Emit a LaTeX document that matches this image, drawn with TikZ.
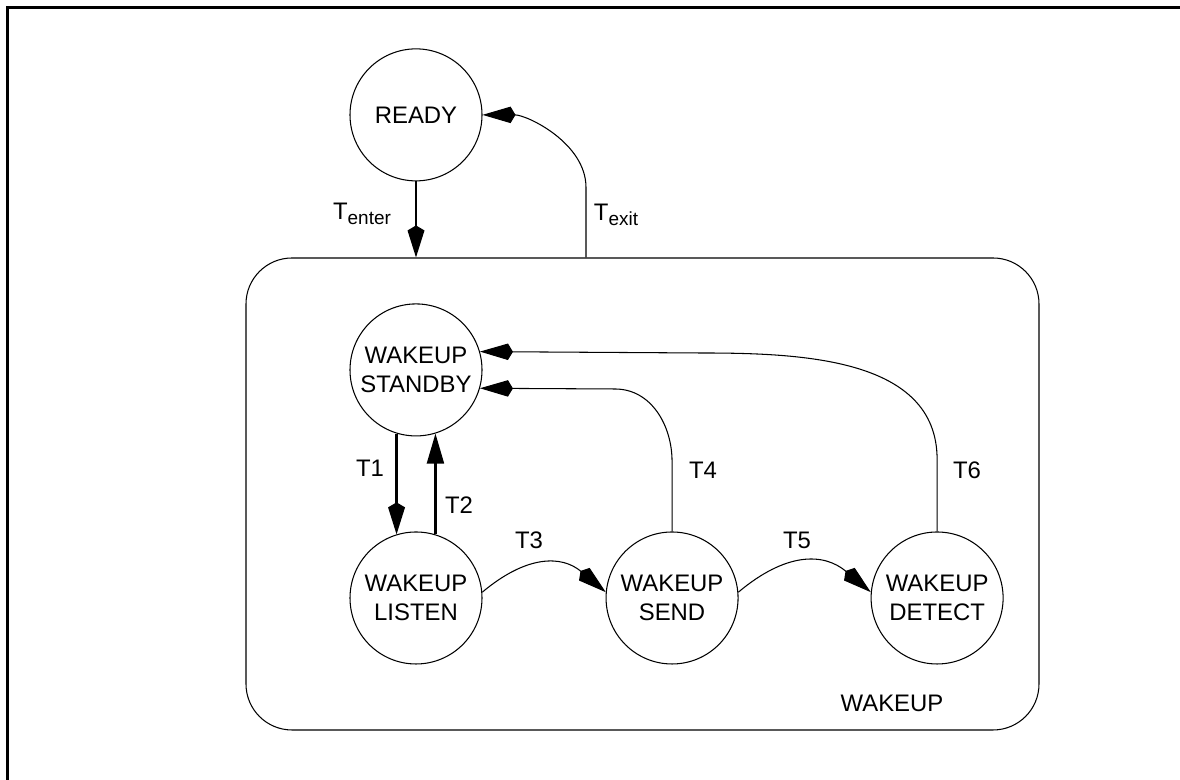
\documentclass[tikz,border=0pt]{standalone}
\usepackage{fontspec}
\setmainfont{Liberation Sans}
\usetikzlibrary{arrows.meta,positioning}
\newcommand{\tsub}[1]{\raisebox{-2.8pt}{\fontsize{10.8}{12}\selectfont #1}}

\begin{document}
\begin{tikzpicture}[font=\fontsize{13.6}{16.8}\selectfont,
    statenode/.style={draw, circle, line width=0.6pt, minimum size=2.64cm, inner sep=0pt, align=center},
    thinlink/.style={line width=0.6pt, -{Kite[length=0.66cm, width=0.33cm, inset=0.1cm]}},
    boldlink/.style={line width=1.2pt, -{Kite[length=0.64cm, width=0.34cm, inset=0.1cm]}},
    backlink/.style={line width=1.2pt, -{Triangle[length=0.6cm, width=0.34cm]}}]
  \useasboundingbox (0,0) rectangle (23.6,15.6);
  \draw[line width=1.7pt] (0.15,0) -- (0.15,15.45) -- (23.6,15.45);

  \node[draw, rounded corners=0.92cm, line width=0.6pt, minimum width=15.86cm, minimum height=9.44cm] (wakeup) at (12.85,5.72) {};
  \node (wakeuplabel) at (17.84,1.54) {WAKEUP};

  \node[statenode] (listen) at (8.32,3.64) {WAKEUP\\LISTEN};
  \node[statenode, right=2.46cm of listen] (send) {WAKEUP\\SEND};
  \node[statenode, right=2.64cm of send] (detect) {WAKEUP\\DETECT};
  \node[statenode, above=1.9cm of listen] (standby) {WAKEUP\\STANDBY};
  \node[statenode, above=2.44cm of standby] (ready) {READY};

  % enter / exit
  \draw[boldlink] (ready.south) -- (ready.south |- wakeup.north);
  \draw[thinlink] ([xshift=-1.13cm]wakeup.north) -- ++(0,1.4) to[out=90,in=0,looseness=0.9] (ready.east);
  \node (tenter) at (7.24,11.32) {T\tsub{enter}};
  \node (texit) at (12.32,11.30) {T\tsub{exit}};

  % inside WAKEUP
  \draw[boldlink] (standby.253) -- (listen.107);
  \draw[backlink] (listen.73) -- (standby.287);
  \draw[thinlink] (listen.5) to[out=40,in=140,looseness=1.2] (send.175);
  \draw[thinlink] (send.5) to[out=40,in=140,looseness=1.2] (detect.175);
  \draw[thinlink] (send.north) -- ++(0,1.4) to[out=90,in=0] (12.3,7.82) -- (standby.-16);
  \draw[thinlink] (detect.north) -- ++(0,1.44) to[out=90,in=0] (14.0,8.54) -- (standby.16);

  \node (t1) at (7.40,6.24) {T1};
  \node (t2) at (9.18,5.50) {T2};
  \node (t3) at (10.58,4.80) {T3};
  \node (t4) at (14.06,6.20) {T4};
  \node (t5) at (15.94,4.80) {T5};
  \node (t6) at (19.34,6.20) {T6};
\end{tikzpicture}
\end{document}
